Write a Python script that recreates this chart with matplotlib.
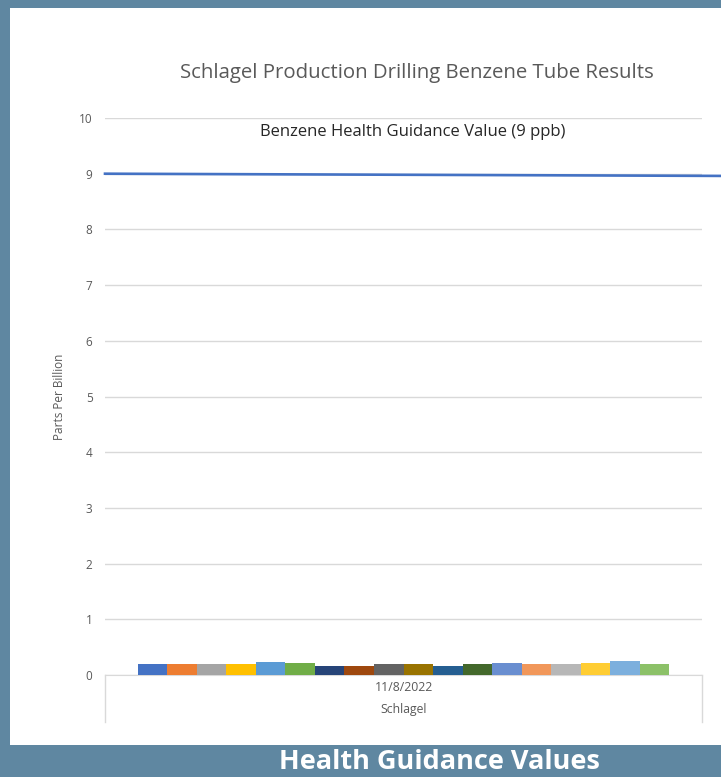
import numpy as np
import matplotlib.pyplot as plt
from matplotlib.transforms import blended_transform_factory

# data
category = '11/8/2022'
group = 'Schlagel'
benzene_ppb = [0.20, 0.20, 0.20, 0.20, 0.24, 0.21, 0.16, 0.16, 0.20,
               0.20, 0.17, 0.20, 0.22, 0.20, 0.20, 0.21, 0.26, 0.20]
bar_colors = ['#4472C4', '#ED7D31', '#A5A5A5', '#FFC000', '#5B9BD5', '#70AD47',
              '#264478', '#9E480E', '#636363', '#997300', '#255E91', '#43682B',
              '#698ED0', '#F1975A', '#B7B7B7', '#FFCD33', '#7CAFDD', '#8CC168']
guidance_value = 9
yticks = list(range(0, 11))

frame = '#5F87A1'
grey = '#595959'

plt.rcParams['font.family'] = ['Open Sans', 'DejaVu Sans']

fig = plt.figure(figsize=(7.21, 7.77), dpi=100)
fig.patch.set_facecolor(frame)

# white panel
panel = fig.add_axes([10 / 721, 32 / 777, 711 / 721, 737 / 777])
panel.set_facecolor('white')
panel.set_xticks([])
panel.set_yticks([])
for s in panel.spines.values():
    s.set_visible(False)

ax = fig.add_axes([105 / 721, 1 - 675 / 777, 597 / 721, 557 / 777])
ax.set_facecolor('none')

n = len(benzene_ppb)
group_width = 0.891
w = group_width / n
x = -group_width / 2 + w / 2 + np.arange(n) * w
ax.bar(x, benzene_ppb, width=w, color=bar_colors, zorder=3)

ax.set_xlim(-0.5, 0.5)
ax.set_ylim(0, 10)
ax.set_yticks(yticks)
ax.yaxis.grid(True, color='#D9D9D9', linewidth=1)
ax.set_axisbelow(True)
ax.tick_params(axis='y', length=0, labelsize=8.5, labelcolor=grey, pad=9)
ax.set_xticks([])
for side in ['top', 'right', 'left']:
    ax.spines[side].set_visible(False)
ax.spines['bottom'].set_color('#D9D9D9')

# guidance line running past the plot edge
tr = blended_transform_factory(ax.transAxes, ax.transData)
ax.plot([0, 1.04], [guidance_value, guidance_value - 0.04], color='#4472C4',
        linewidth=1.9, transform=tr, clip_on=False, zorder=4)
ax.text(0.515, 9.75, 'Benzene Health Guidance Value (9 ppb)', transform=tr,
        ha='center', va='center', fontsize=12, color='#262626')

# multi-level category axis
ax.plot([0, 0], [0, -0.085], transform=ax.transAxes, color='#D9D9D9',
        linewidth=1, clip_on=False)
ax.plot([1, 1], [0, -0.085], transform=ax.transAxes, color='#D9D9D9',
        linewidth=1, clip_on=False)
ax.text(0.5, -0.023, category, transform=ax.transAxes, ha='center',
        va='center', fontsize=8.8, color=grey)
ax.text(0.5, -0.062, group, transform=ax.transAxes, ha='center',
        va='center', fontsize=8.8, color=grey)

ax.set_ylabel('Parts Per Billion', fontsize=8.5, color=grey, labelpad=9)

fig.text(417 / 721, 1 - 73 / 777, 'Schlagel Production Drilling Benzene Tube Results',
         ha='center', va='center', fontsize=14.7, color=grey)

fig.text(439 / 721, 1 - 769 / 777, 'Health Guidance Values', ha='center',
         va='baseline', fontsize=19.5, fontweight='bold', color='white')

fig.savefig('out.png', dpi=100, facecolor=fig.get_facecolor())
